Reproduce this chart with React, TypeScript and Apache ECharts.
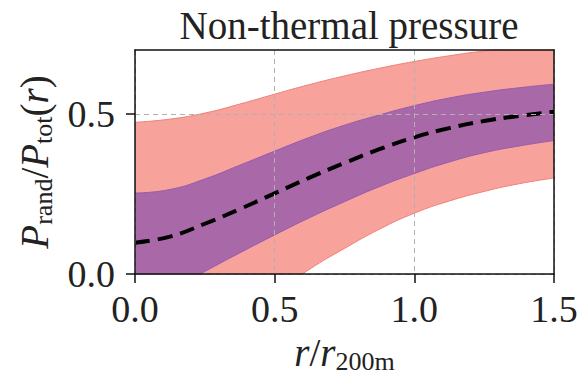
import React, { useEffect, useRef } from "react";
import * as echarts from "echarts";

const radius = [0, 0.125, 0.25, 0.375, 0.5, 0.625, 0.75, 0.875, 1.0, 1.125, 1.25, 1.375, 1.5];
const meanRatio = [0.098, 0.117, 0.157, 0.203, 0.252, 0.301, 0.347, 0.39, 0.427, 0.456, 0.478, 0.494, 0.507];
const innerUpper = [0.253, 0.264, 0.297, 0.34, 0.384, 0.427, 0.465, 0.497, 0.526, 0.55, 0.568, 0.582, 0.593];
const innerLower = [-0.11, -0.05, 0.008, 0.066, 0.122, 0.176, 0.226, 0.273, 0.314, 0.35, 0.379, 0.4, 0.417];
const outerUpper = [0.474, 0.484, 0.503, 0.531, 0.562, 0.592, 0.619, 0.643, 0.664, 0.682, 0.697, 0.709, 0.718];
const outerLower = [-0.34, -0.28, -0.21, -0.135, -0.06, 0.015, 0.08, 0.14, 0.19, 0.228, 0.258, 0.282, 0.3];
const xTickLabels = ["0.0", "0.5", "1.0", "1.5"];
const yTicks = [0, 0.5];

const FONT = "Liberation Serif";
const RED = "#F7A29B";
const RED_EDGE = "#F0807A";
const PURPLE = "#A968A7";
const PURPLE_EDGE = "#9A5AAE";
const INK = "#222";

export default function App() {
  const ref = useRef<HTMLDivElement>(null);
  useEffect(() => {
    if (!ref.current) return;
    const chart = echarts.init(ref.current, null, { renderer: "svg" });
    const cats = radius.map((r) => String(r));
    const diff = (a: number[], b: number[]) => a.map((v, i) => +(v - b[i]).toFixed(4));
    const isMajor = (i: number) => xTickLabels.includes(radius[i].toFixed(1)) && radius[i] * 2 === Math.round(radius[i] * 2);
    const bandBase = {
      type: "line",
      smooth: true,
      symbol: "none",
      stackStrategy: "all",
      clip: true,
    };
    const richMath = {
      i: { fontFamily: FONT, fontStyle: "italic", fontSize: 39, color: INK, lineHeight: 38, verticalAlign: "top" },
      n: { fontFamily: FONT, fontSize: 39, color: INK, lineHeight: 38, verticalAlign: "top" },
      s: { fontFamily: FONT, fontSize: 26, color: INK, lineHeight: 26, verticalAlign: "bottom", padding: [0, 0, -4, 0] },
    };
    chart.setOption({
      animation: false,
      title: {
        text: "Non-thermal pressure",
        left: 344,
        textAlign: "center",
        top: 1,
        textStyle: { fontFamily: FONT, fontSize: 39, fontWeight: "normal", color: INK },
      },
      grid: { left: 135, right: 29, top: 50, bottom: 103, outerBoundsMode: "none", containLabel: false },
      xAxis: [
        {
          type: "category",
          data: cats,
          boundaryGap: false,
          z: 5,
          axisLine: { show: true, lineStyle: { color: "#111", width: 1.5 } },
          axisTick: { show: true, length: 9, interval: (i: number) => isMajor(i), lineStyle: { color: "#111", width: 1.5 } },
          axisLabel: {
            interval: (i: number) => isMajor(i),
            formatter: (v: string) => Number(v).toFixed(1),
            fontFamily: FONT,
            fontSize: 38,
            color: INK,
            margin: 16,
          },
          splitLine: { show: true, interval: (i: number) => isMajor(i), lineStyle: { color: "#b0b0b0", type: [5, 4], width: 1 } },
          name: "{i|r}{n|/}{i|r}{s|200m}",
          nameLocation: "middle",
          nameGap: 50,
          nameTextStyle: { rich: richMath },
        },
        {
          type: "category",
          data: cats,
          boundaryGap: false,
          position: "top",
          z: 5,
          axisLine: { show: true, onZero: false, lineStyle: { color: "#111", width: 1.5 } },
          axisTick: { show: false },
          axisLabel: { show: false },
          splitLine: { show: false },
        },
      ],
      yAxis: [
        {
          type: "value",
          min: 0,
          max: 0.7,
          interval: 0.5,
          z: 5,
          axisLine: { show: true, lineStyle: { color: "#111", width: 1.5 } },
          axisTick: { show: true, length: 9, lineStyle: { color: "#111", width: 1.5 }, customValues: yTicks },
          axisLabel: {
            customValues: yTicks,
            formatter: (v: number) => v.toFixed(1),
            fontFamily: FONT,
            fontSize: 38,
            color: INK,
            margin: 20,
          },
          splitLine: { show: true, lineStyle: { color: "#b0b0b0", type: [5, 4], width: 1 } },
          name: "{i|P}{s|rand}{n|/}{i|P}{s|tot}{n|(}{i|r}{n|)}",
          nameLocation: "middle",
          nameRotate: 90,
          nameGap: 80,
          nameTextStyle: { rich: richMath },
        },
        {
          type: "value",
          position: "right",
          min: 0,
          max: 0.7,
          z: 5,
          axisLine: { show: true, onZero: false, lineStyle: { color: "#111", width: 1.5 } },
          axisTick: { show: false },
          axisLabel: { show: false },
          splitLine: { show: false },
        },
      ],
      series: [
        {
          ...bandBase,
          name: "outerLow",
          stack: "outer",
          data: outerLower,
          lineStyle: { color: RED_EDGE, width: 1 },
          z: 1,
        },
        {
          ...bandBase,
          name: "outerBand",
          stack: "outer",
          data: diff(outerUpper, outerLower),
          lineStyle: { color: RED_EDGE, width: 1 },
          areaStyle: { color: RED, opacity: 1 },
          z: 1,
        },
        {
          ...bandBase,
          name: "innerLow",
          stack: "inner",
          data: innerLower,
          lineStyle: { color: PURPLE_EDGE, width: 1 },
          z: 2,
        },
        {
          ...bandBase,
          name: "innerBand",
          stack: "inner",
          data: diff(innerUpper, innerLower),
          lineStyle: { color: PURPLE_EDGE, width: 1 },
          areaStyle: { color: PURPLE, opacity: 1 },
          z: 2,
        },
        {
          type: "line",
          name: "mean",
          smooth: true,
          symbol: "none",
          data: meanRatio,
          lineStyle: { color: "#000", width: 4, type: [15, 8] },
          z: 3,
        },
      ],
    });
    return () => chart.dispose();
  }, []);
  return <div ref={ref} style={{ width: 583, height: 377, position: "absolute", left: 0, top: 0, background: "#fff" }} />;
}
